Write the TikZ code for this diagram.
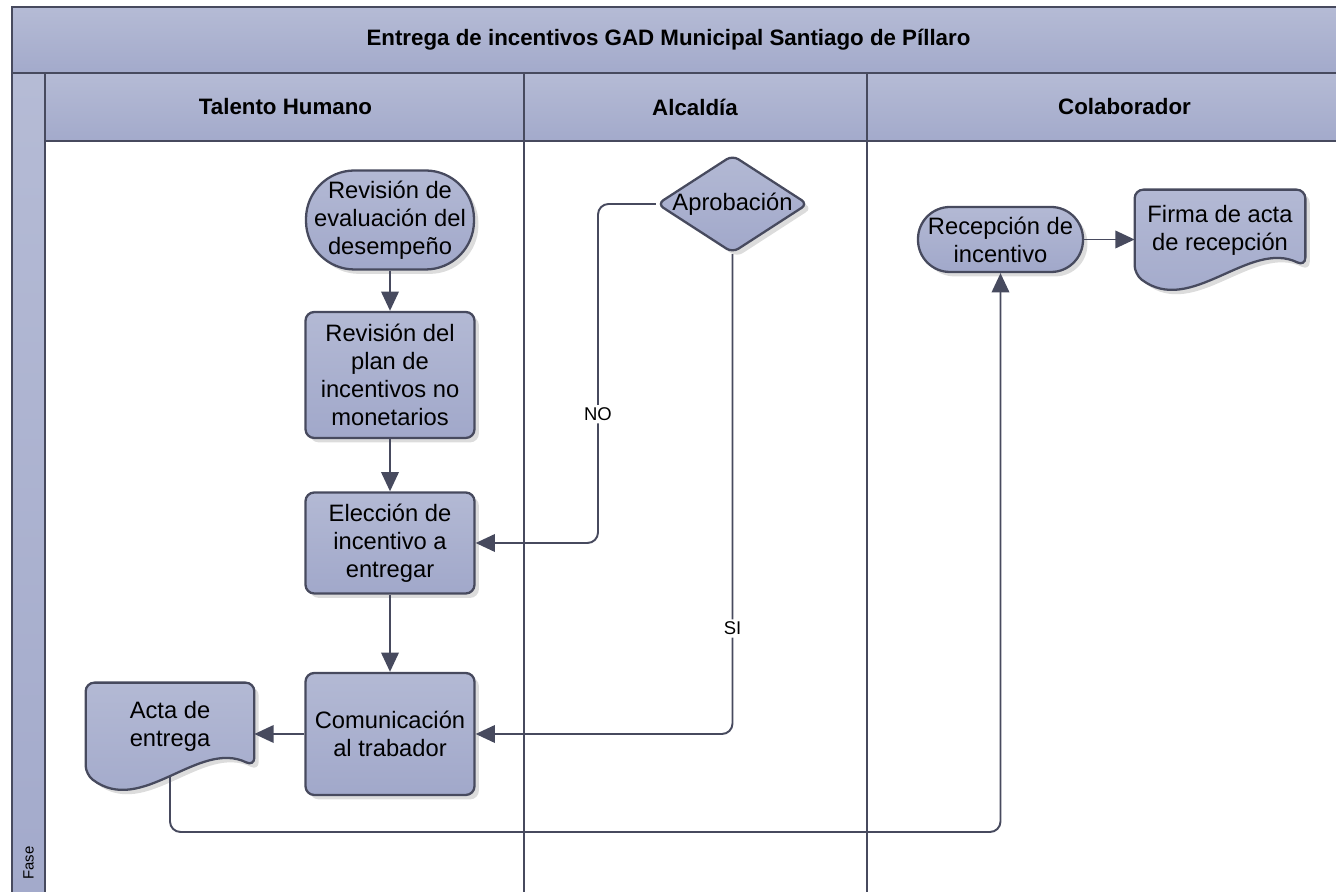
\documentclass[tikz,border=0pt]{standalone}
\usepackage{fontspec}
\setmainfont{Liberation Sans}
\usetikzlibrary{arrows.meta,shapes.geometric,shadows,backgrounds}

\definecolor{edgeline}{HTML}{474A5E}
\definecolor{lanetop}{HTML}{B5BBD5}
\definecolor{lanebot}{HTML}{A3AACB}
\definecolor{boxtop}{HTML}{B3B9D4}
\definecolor{boxbot}{HTML}{A1A8CA}

% outline of a document symbol, drawn behind the named node
\newcommand{\docoutline}[1]{%
  \begin{pgfonlayer}{background}
    \path[docshape] (#1.north west) -- (#1.north east) -- ([yshift=0.08cm]#1.south east)
      .. controls +(-1.12,0.55) and +(1.12,-0.85) .. ([yshift=-0.08cm]#1.south west) -- cycle;
  \end{pgfonlayer}}

\begin{document}
\begin{tikzpicture}[
  frameline/.style={draw=edgeline, line width=1.6pt},
  laneband/.style={top color=lanetop, bottom color=lanebot},
  lanetitle/.style={font=\bfseries\fontsize{12.7}{15}\selectfont},
  flowbox/.style={draw=edgeline, line width=1.3pt, top color=boxtop, bottom color=boxbot,
    rounded corners=5pt, minimum width=3.38cm, inner sep=0pt, align=center,
    font=\fontsize{13.5}{16}\selectfont,
    drop shadow={shadow xshift=2.5pt, shadow yshift=-2.5pt, opacity=0.3, fill=black!45}},
  decision/.style={flowbox, diamond, rounded corners=4pt, minimum width=3.02cm, minimum height=1.96cm},
  docbox/.style={inner sep=0pt, align=center, font=\fontsize{13.5}{16}\selectfont},
  docshape/.style={draw=edgeline, line width=1.3pt, top color=boxtop, bottom color=boxbot,
    rounded corners=5pt,
    drop shadow={shadow xshift=2.5pt, shadow yshift=-2.5pt, opacity=0.3, fill=black!45}},
  flow/.style={draw=edgeline, line width=1.1pt, rounded corners=6pt, -{Triangle[length=11pt,width=10pt]}},
  flowlabel/.style={fill=white, inner sep=1.5pt, font=\fontsize{10.5}{12}\selectfont}
]
\useasboundingbox (0,0) rectangle (26.72,17.84);
\clip (0,0) rectangle (26.72,17.84);

% Pool and lanes
\fill[laneband] (0.24,16.38) rectangle (27,17.70);
\fill[laneband] (0.90,15.02) rectangle (27,16.38);
\fill[laneband] (0.24,-0.2) rectangle (0.90,16.38);
\draw[frameline] (27,17.70) -- (0.24,17.70) -- (0.24,-0.2);
\draw[frameline] (0.24,16.38) -- (27,16.38);
\draw[frameline] (0.90,15.02) -- (27,15.02);
\draw[frameline] (0.90,16.38) -- (0.90,-0.2);
\draw[frameline] (10.48,16.38) -- (10.48,-0.2);
\draw[frameline] (17.34,16.38) -- (17.34,-0.2);

\node[lanetitle] (title) at (13.37,17.04) {Entrega de incentivos GAD Municipal Santiago de Píllaro};
\node[lanetitle] (talento) at (5.71,15.70) {Talento Humano};
\node[lanetitle] (alcaldia) at (13.90,15.70) {Alcaldía};
\node[lanetitle] (colab) at (22.49,15.70) {Colaborador};
\node[rotate=90, anchor=west, inner sep=0pt, font=\fontsize{8.5}{10}\selectfont] (fase) at (0.57,0.24) {Fase};

% Talento Humano
\node[flowbox, rounded corners=0.97cm, minimum width=3.36cm, minimum height=1.98cm] (desemp) at (7.80,13.44)
  {Revisión de\\evaluación del\\desempeño};
\node[flowbox, minimum height=2.52cm] (plan) at (7.80,10.34)
  {Revisión del\\plan de\\incentivos no\\monetarios};
\node[flowbox, minimum height=2.02cm] (elec) at (7.80,6.98)
  {Elección de\\incentivo a\\entregar};
\node[flowbox, minimum height=2.44cm] (comun) at (7.80,3.16)
  {Comunicación\\al trabador};
\node[docbox, minimum width=3.36cm, minimum height=1.74cm] (acta) at (3.40,3.31) {Acta de\\entrega};
\docoutline{acta}

% Alcaldia
\node[decision] (aprob) at (14.65,13.76) {\makebox[0pt]{Aprobación}};

% Colaborador
\node[flowbox, rounded corners=0.64cm, minimum width=3.30cm, minimum height=1.30cm] (recep) at (20.01,13.05)
  {Recepción de\\incentivo};
\node[docbox, minimum width=3.40cm, minimum height=1.60cm] (firma) at (24.40,13.24) {Firma de acta\\de recepción};
\docoutline{firma}

% Connectors
\coordinate (nobend) at (11.96,13.76);
\coordinate (loopbase) at (3.40,1.20);
\draw[flow] (desemp) -- (plan);
\draw[flow] (plan) -- (elec);
\draw[flow] (elec) -- (comun);
\draw[flow] (aprob.west) -- (nobend) |- node[flowlabel, pos=0.31] {NO} (elec.east);
\draw[flow] (aprob.south) |- node[flowlabel, pos=0.39] {SI} (comun.east);
\draw[flow] (comun.west) -- (comun.west -| acta.east);
\draw[flow] ([yshift=-0.1cm]acta.south) -- (loopbase) -| (recep.south);
\draw[flow] (recep.east) -- (recep.east -| firma.west);

\end{tikzpicture}
\end{document}
